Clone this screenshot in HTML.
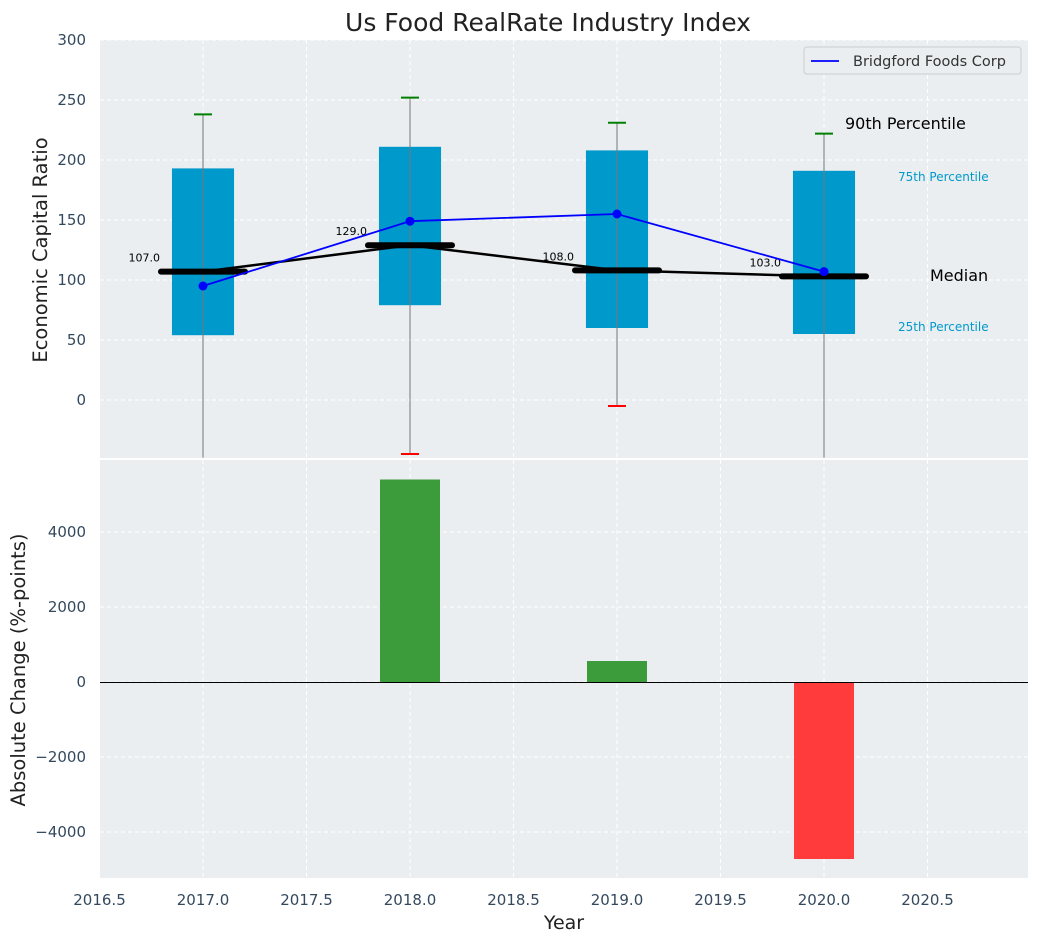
<!DOCTYPE html>
<html><head><meta charset="utf-8"><style>
body{margin:0;background:#fff;font-family:"Liberation Sans","DejaVu Sans",sans-serif}
svg text{font-family:"DejaVu Sans","Liberation Sans",sans-serif}
</style></head><body>
<svg id="c" width="1039" height="942" xmlns="http://www.w3.org/2000/svg"></svg>
<script>
const years=[2017,2018,2019,2020];
const q25=[54,79,60,55];
const q75=[193,211,208,191];
const p90=[238,252,231,222];
const p10=[-60,-45,-5,-60];
const medians=[107,129,108,103];
const company=[95,149,155,107];
const changes=[0,5400,560,-4720];
const xTicks=[2016.5,2017,2017.5,2018,2018.5,2019,2019.5,2020,2020.5];
const yTopTicks=[0,50,100,150,200,250,300];
const yBotTicks=[-4000,-2000,0,2000,4000];

const NS="http://www.w3.org/2000/svg";
const svg=document.getElementById('c');
function el(t,a,txt){const e=document.createElementNS(NS,t);for(const k in a)e.setAttribute(k,a[k]);if(txt!==undefined)e.textContent=txt;svg.appendChild(e);return e;}
const L=100,R=1028;
const X=v=>99.5+(v-2016.5)*207;
const T0=40,T1=458,B0=460,B1=878;
const YT=v=>400-v*1.2;
const YB=v=>682-v*0.0375;

let e;
e=el('rect',{x:L,y:T0,width:R-L,height:T1-T0,fill:'#eaeef0'});

e=el('rect',{x:L,y:B0,width:R-L,height:B1-B0,fill:'#eaeef0'});

xTicks.forEach(t=>{[[T0,T1],[B0,B1]].forEach(r=>{e=el('line',{x1:X(t),x2:X(t),y1:r[0],y2:r[1],stroke:'#fff','stroke-dasharray':'4,3','stroke-width':1});});
 e=el('text',{x:X(t),y:905,'text-anchor':'middle','font-size':15,fill:'#34495e'},t.toFixed(1));});
yTopTicks.forEach(t=>{e=el('line',{x1:L,x2:R,y1:YT(t),y2:YT(t),stroke:'#fff','stroke-dasharray':'4,3'});
 e=el('text',{x:86,y:YT(t)+5,'text-anchor':'end','font-size':15,fill:'#34495e'},t);});
yBotTicks.forEach(t=>{e=el('line',{x1:L,x2:R,y1:YB(t),y2:YB(t),stroke:'#fff','stroke-dasharray':'4,3'});
 e=el('text',{x:86,y:YB(t)+5,'text-anchor':'end','font-size':15,fill:'#34495e'},t<0?'\u2212'+(-t):t);});
const bw=0.3*207;
years.forEach((y,i)=>{
 const cx=X(y);
 e=el('rect',{x:cx-bw/2,y:YT(q75[i]),width:bw,height:YT(q25[i])-YT(q75[i]),fill:'#0099cc'});
 const lo=Math.max(p10[i],-48);
 e=el('line',{x1:cx,x2:cx,y1:YT(p90[i]),y2:YT(lo),stroke:'#777','stroke-width':1});
 e=el('line',{x1:cx-9,x2:cx+9,y1:YT(p90[i]),y2:YT(p90[i]),stroke:'green','stroke-width':2});
 if(p10[i]>=-48){e=el('line',{x1:cx-9,x2:cx+9,y1:YT(p10[i]),y2:YT(p10[i]),stroke:'red','stroke-width':2});}
 e=el('line',{x1:cx-42,x2:cx+42,y1:YT(medians[i]),y2:YT(medians[i]),stroke:'#000','stroke-width':6,'stroke-linecap':'round'});
 e=el('text',{x:cx-43,y:YT(medians[i])-10,'text-anchor':'end','font-size':11,fill:'#000'},medians[i].toFixed(1));
});
e=el('polyline',{points:years.map((y,i)=>X(y)+','+YT(medians[i])).join(' '),fill:'none',stroke:'#000','stroke-width':2.5});
e=el('polyline',{points:years.map((y,i)=>X(y)+','+YT(company[i])).join(' '),fill:'none',stroke:'blue','stroke-width':1.8});
years.forEach((y,i)=>{e=el('circle',{cx:X(y),cy:YT(company[i]),r:4.5,fill:'blue'});});
[['90th Percentile',845,129,16,'#000'],['75th Percentile',898,181,12,'#0099cc'],['Median',930,281,16,'#000'],['25th Percentile',898,331,12,'#0099cc']].forEach(a=>{
 e=el('text',{x:a[1],y:a[2],'font-size':a[3],fill:a[4]},a[0]);});
e=el('rect',{x:804,y:47,width:217,height:27,fill:'#eaeef0',stroke:'#ccc',rx:3});
e=el('line',{x1:811,x2:839,y1:61,y2:61,stroke:'blue','stroke-width':1.8});
e=el('text',{x:853,y:66,'font-size':14.5,fill:'#333'},'Bridgford Foods Corp');
years.forEach((y,i)=>{const v=changes[i];if(!v)return;
 e=el('rect',{x:X(y)-30,y:Math.min(YB(v),YB(0)),width:60,height:Math.abs(YB(v)-YB(0)),fill:v>0?'#3c9c3c':'#ff3b3b'});});
e=el('line',{x1:L,x2:R,y1:YB(0)+0.5,y2:YB(0)+0.5,stroke:'#000','stroke-width':1});
e=el('text',{x:548,y:31,'text-anchor':'middle','font-size':25,fill:'#222'},'Us Food RealRate Industry Index');
e=el('text',{x:564,y:929,'text-anchor':'middle','font-size':19,fill:'#222'},'Year');
e=el('text',{x:47,y:250,'text-anchor':'middle','font-size':19.5,fill:'#222',transform:'rotate(-90 47 250)'},'Economic Capital Ratio');
e=el('text',{x:25,y:670,'text-anchor':'middle','font-size':19.5,fill:'#222',transform:'rotate(-90 25 670)'},'Absolute Change (%-points)');
</script>
</body></html>
